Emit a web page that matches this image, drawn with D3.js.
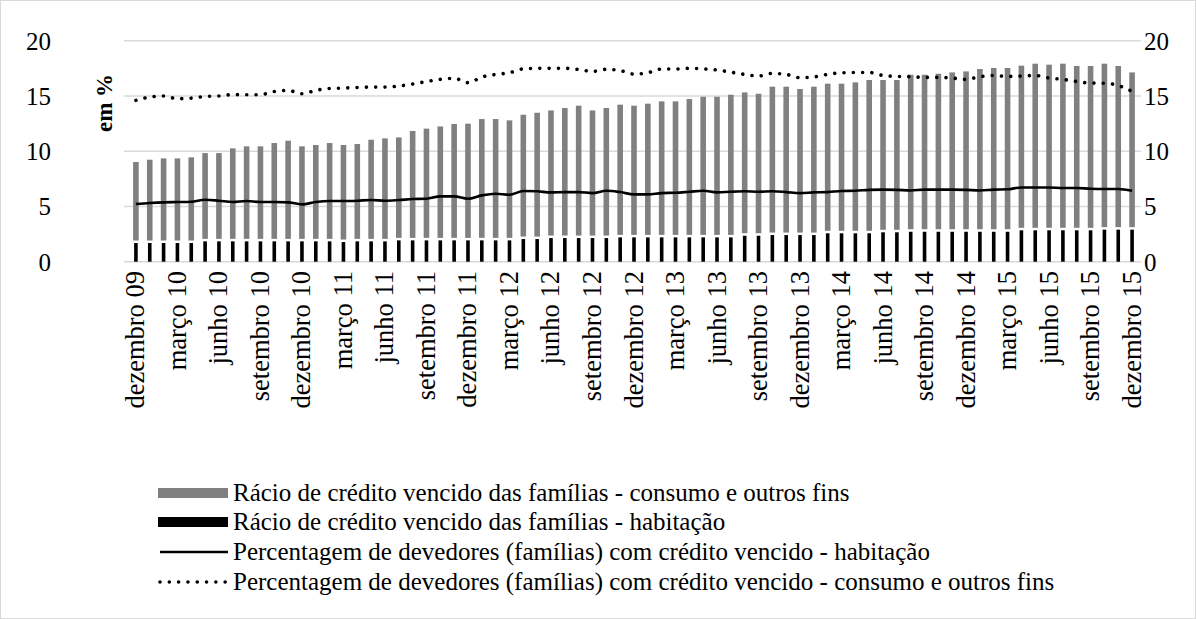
<!DOCTYPE html>
<html>
<head>
<meta charset="utf-8">
<script src="https://cdn.jsdelivr.net/npm/d3@7"></script>
<style>
  body { margin: 0; background: #fff; }
  svg, svg text { font-family: "Liberation Serif", "Times New Roman", Tinos, "DejaVu Serif", serif; }
</style>
</head>
<body>
<svg id="chart" width="1196" height="619"></svg>
<script>
// meses (dezembro 09 .. dezembro 15)
const monthNames = ["janeiro", "fevereiro", "março", "abril", "maio", "junho", "julho",
  "agosto", "setembro", "outubro", "novembro", "dezembro"];
const years = ["09", "10", "11", "12", "13", "14", "15"];

// rácio de crédito vencido - habitação
const habitacao = [1.69, 1.69, 1.69, 1.69, 1.69, 1.84, 1.84, 1.84, 1.84, 1.84,
  1.84, 1.84, 1.84, 1.84, 1.84, 1.78, 1.84, 1.84, 1.84, 1.93,
  1.93, 1.93, 1.93, 1.93, 1.93, 1.93, 1.93, 1.93, 2.05, 2.05,
  2.14, 2.14, 2.14, 2.14, 2.14, 2.2, 2.2, 2.2, 2.2, 2.2,
  2.2, 2.2, 2.2, 2.2, 2.35, 2.35, 2.41, 2.41, 2.41, 2.41,
  2.57, 2.57, 2.57, 2.57, 2.66, 2.66, 2.71, 2.71, 2.71, 2.71,
  2.71, 2.71, 2.71, 2.71, 2.84, 2.84, 2.84, 2.84, 2.84, 2.84,
  2.9, 2.9, 2.9];

// rácio de crédito vencido - consumo e outros fins
const consumo = [7.33, 7.54, 7.66, 7.66, 7.75, 7.99, 7.99, 8.42, 8.6, 8.6,
  8.9, 9.11, 8.6, 8.72, 8.9, 8.78, 8.81, 9.2, 9.32, 9.32,
  9.9, 10.11, 10.31, 10.53, 10.56, 10.98, 10.98, 10.86, 11.25, 11.43,
  11.55, 11.77, 11.98, 11.55, 11.77, 12.01, 11.92, 12.1, 12.31, 12.31,
  12.52, 12.73, 12.73, 12.91, 12.97, 12.85, 13.43, 13.43, 13.22, 13.43,
  13.54, 13.54, 13.66, 13.87, 13.78, 13.78, 14.21, 14.21, 14.3, 14.42,
  14.51, 14.73, 14.82, 14.82, 14.9, 15.08, 14.99, 15.08, 14.87, 14.87,
  15.02, 14.81, 14.23];

// percentagem de devedores com crédito vencido - habitação
const devHabitacao = [5.22, 5.31, 5.37, 5.4, 5.43, 5.61, 5.52, 5.4, 5.49, 5.4,
  5.4, 5.37, 5.19, 5.4, 5.49, 5.49, 5.52, 5.58, 5.52, 5.58,
  5.67, 5.7, 5.91, 5.91, 5.7, 6.0, 6.15, 6.06, 6.4, 6.37,
  6.27, 6.3, 6.3, 6.21, 6.42, 6.3, 6.09, 6.09, 6.21, 6.24,
  6.33, 6.42, 6.27, 6.33, 6.37, 6.33, 6.37, 6.3, 6.21, 6.27,
  6.3, 6.4, 6.42, 6.5, 6.52, 6.5, 6.45, 6.52, 6.52, 6.52,
  6.5, 6.45, 6.52, 6.55, 6.72, 6.72, 6.72, 6.67, 6.67, 6.6,
  6.58, 6.58, 6.42];

// percentagem de devedores com crédito vencido - consumo e outros fins
const devConsumo = [14.6, 14.9, 15.0, 14.75, 14.8, 14.95, 15.0, 15.12, 15.11, 15.12,
  15.4, 15.5, 15.2, 15.5, 15.68, 15.71, 15.77, 15.8, 15.8, 15.9,
  16.08, 16.3, 16.5, 16.6, 16.2, 16.7, 16.95, 17.1, 17.45, 17.5,
  17.5, 17.5, 17.4, 17.22, 17.41, 17.3, 16.98, 17.1, 17.44, 17.44,
  17.5, 17.45, 17.35, 17.15, 16.95, 16.8, 17.04, 16.95, 16.65, 16.72,
  16.95, 17.1, 17.12, 17.13, 16.85, 16.77, 16.74, 16.68, 16.68, 16.62,
  16.5, 16.74, 16.85, 16.77, 16.8, 16.86, 16.62, 16.5, 16.3, 16.17,
  16.15, 15.95, 15.4];

const yTicks = [0, 5, 10, 15, 20];

const legendLabels = [
  "Rácio de crédito vencido das famílias - consumo e outros fins",
  "Rácio de crédito vencido das famílias - habitação",
  "Percentagem de devedores (famílias) com crédito vencido - habitação",
  "Percentagem de devedores (famílias) com crédito vencido - consumo e outros fins"
];

const serif = '"Liberation Serif", "Times New Roman", Tinos, "DejaVu Serif", serif';

// categorias
const categories = [];
categories.push("dezembro " + years[0]);
for (let y = 1; y < years.length; y++) {
  monthNames.forEach((m) => categories.push(m + " " + years[y]));
}

const data = categories.map((c, i) => ({
  cat: c,
  hab: habitacao[i],
  cons: consumo[i],
  dHab: devHabitacao[i],
  dCons: devConsumo[i]
}));

const svg = d3.select("#chart");
const W = 1196, H = 619;

svg.append("rect")
  .attr("x", 0.5).attr("y", 0.5)
  .attr("width", W - 1).attr("height", H - 1)
  .attr("fill", "#fff").attr("stroke", "#d9d9d9");

const x = d3.scaleBand().domain(categories).range([129, 1139]);
const y = d3.scaleLinear().domain([0, 20]).range([261.7, 40.7]);
const cx = (d) => x(d.cat) + x.bandwidth() / 2;

// gridlines
svg.append("g")
  .selectAll("line")
  .data(yTicks)
  .join("line")
  .attr("x1", 124).attr("x2", 1141)
  .attr("y1", (d) => y(d)).attr("y2", (d) => y(d))
  .attr("stroke", "#d9d9d9")
  .attr("stroke-width", 1.5);

// axes
const styleTicks = (g) =>
  g.call((g) => g.select(".domain").remove())
    .attr("font-family", serif)
    .call((g) => g.selectAll("text")
      .attr("font-size", 25)
      .attr("fill", "#000")
      .attr("dy", "0.34em"));

svg.append("g").attr("transform", "translate(51,0)")
  .call(d3.axisLeft(y).tickValues(yTicks).tickSize(0).tickPadding(0))
  .call(styleTicks);

svg.append("g").attr("transform", "translate(1144,0)")
  .call(d3.axisRight(y).tickValues(yTicks).tickSize(0).tickPadding(0))
  .call(styleTicks);

// axis title
svg.append("text")
  .attr("transform", "translate(112,103) rotate(-90)")
  .attr("text-anchor", "middle")
  .attr("font-family", serif)
  .attr("font-size", 23)
  .attr("font-weight", "bold")
  .text("em %");

// bars
const gap = 2.5;
svg.append("g")
  .selectAll("rect")
  .data(data)
  .join("rect")
  .attr("x", (d) => cx(d) - 1.8)
  .attr("width", 3.6)
  .attr("y", (d) => y(d.hab))
  .attr("height", (d) => y(0) - y(d.hab))
  .attr("fill", "#000");

svg.append("g")
  .selectAll("rect")
  .data(data)
  .join("rect")
  .attr("x", (d) => cx(d) - 2.8)
  .attr("width", 5.6)
  .attr("y", (d) => y(d.hab + d.cons))
  .attr("height", (d) => y(d.hab) - y(d.hab + d.cons) - gap)
  .attr("fill", "#808080");

// lines
const lineHab = d3.line().x(cx).y((d) => y(d.dHab)).curve(d3.curveMonotoneX);
const lineCons = d3.line().x(cx).y((d) => y(d.dCons)).curve(d3.curveMonotoneX);

svg.append("path")
  .datum(data)
  .attr("d", lineHab)
  .attr("fill", "none")
  .attr("stroke", "#000")
  .attr("stroke-width", 2.6);

svg.append("path")
  .datum(data)
  .attr("d", lineCons)
  .attr("fill", "none")
  .attr("stroke", "#000")
  .attr("stroke-width", 3.6)
  .attr("stroke-linecap", "round")
  .attr("stroke-dasharray", "0.01 9.3");

// x labels every 3 months
const shown = categories.filter((c, i) => i % 3 === 0);
svg.append("g")
  .attr("font-family", serif)
  .selectAll("text")
  .data(shown)
  .join("text")
  .attr("transform", (d) => `translate(${x(d) + x.bandwidth() / 2 + 8.5},271) rotate(-90)`)
  .attr("text-anchor", "end")
  .attr("font-size", 26.5)
  .text((d) => d);

// legend
const legend = svg.append("g").attr("font-family", serif);
const rowY = [493, 522, 552, 582];
legendLabels.forEach((t, i) => {
  const gy = rowY[i];
  if (i === 0 || i === 1) {
    legend.append("rect")
      .attr("x", 158).attr("y", gy - 5)
      .attr("width", 70).attr("height", 10)
      .attr("fill", i === 0 ? "#808080" : "#000");
  } else if (i === 2) {
    legend.append("line")
      .attr("x1", 160).attr("x2", 228)
      .attr("y1", gy).attr("y2", gy)
      .attr("stroke", "#000").attr("stroke-width", 2.6);
  } else {
    legend.append("line")
      .attr("x1", 160).attr("x2", 228)
      .attr("y1", gy).attr("y2", gy)
      .attr("stroke", "#000").attr("stroke-width", 3.6)
      .attr("stroke-linecap", "round")
      .attr("stroke-dasharray", "0.01 9.3");
  }
  legend.append("text")
    .attr("x", 233).attr("y", gy + 8)
    .attr("font-size", 25)
    .text(t);
});
</script>
</body>
</html>
